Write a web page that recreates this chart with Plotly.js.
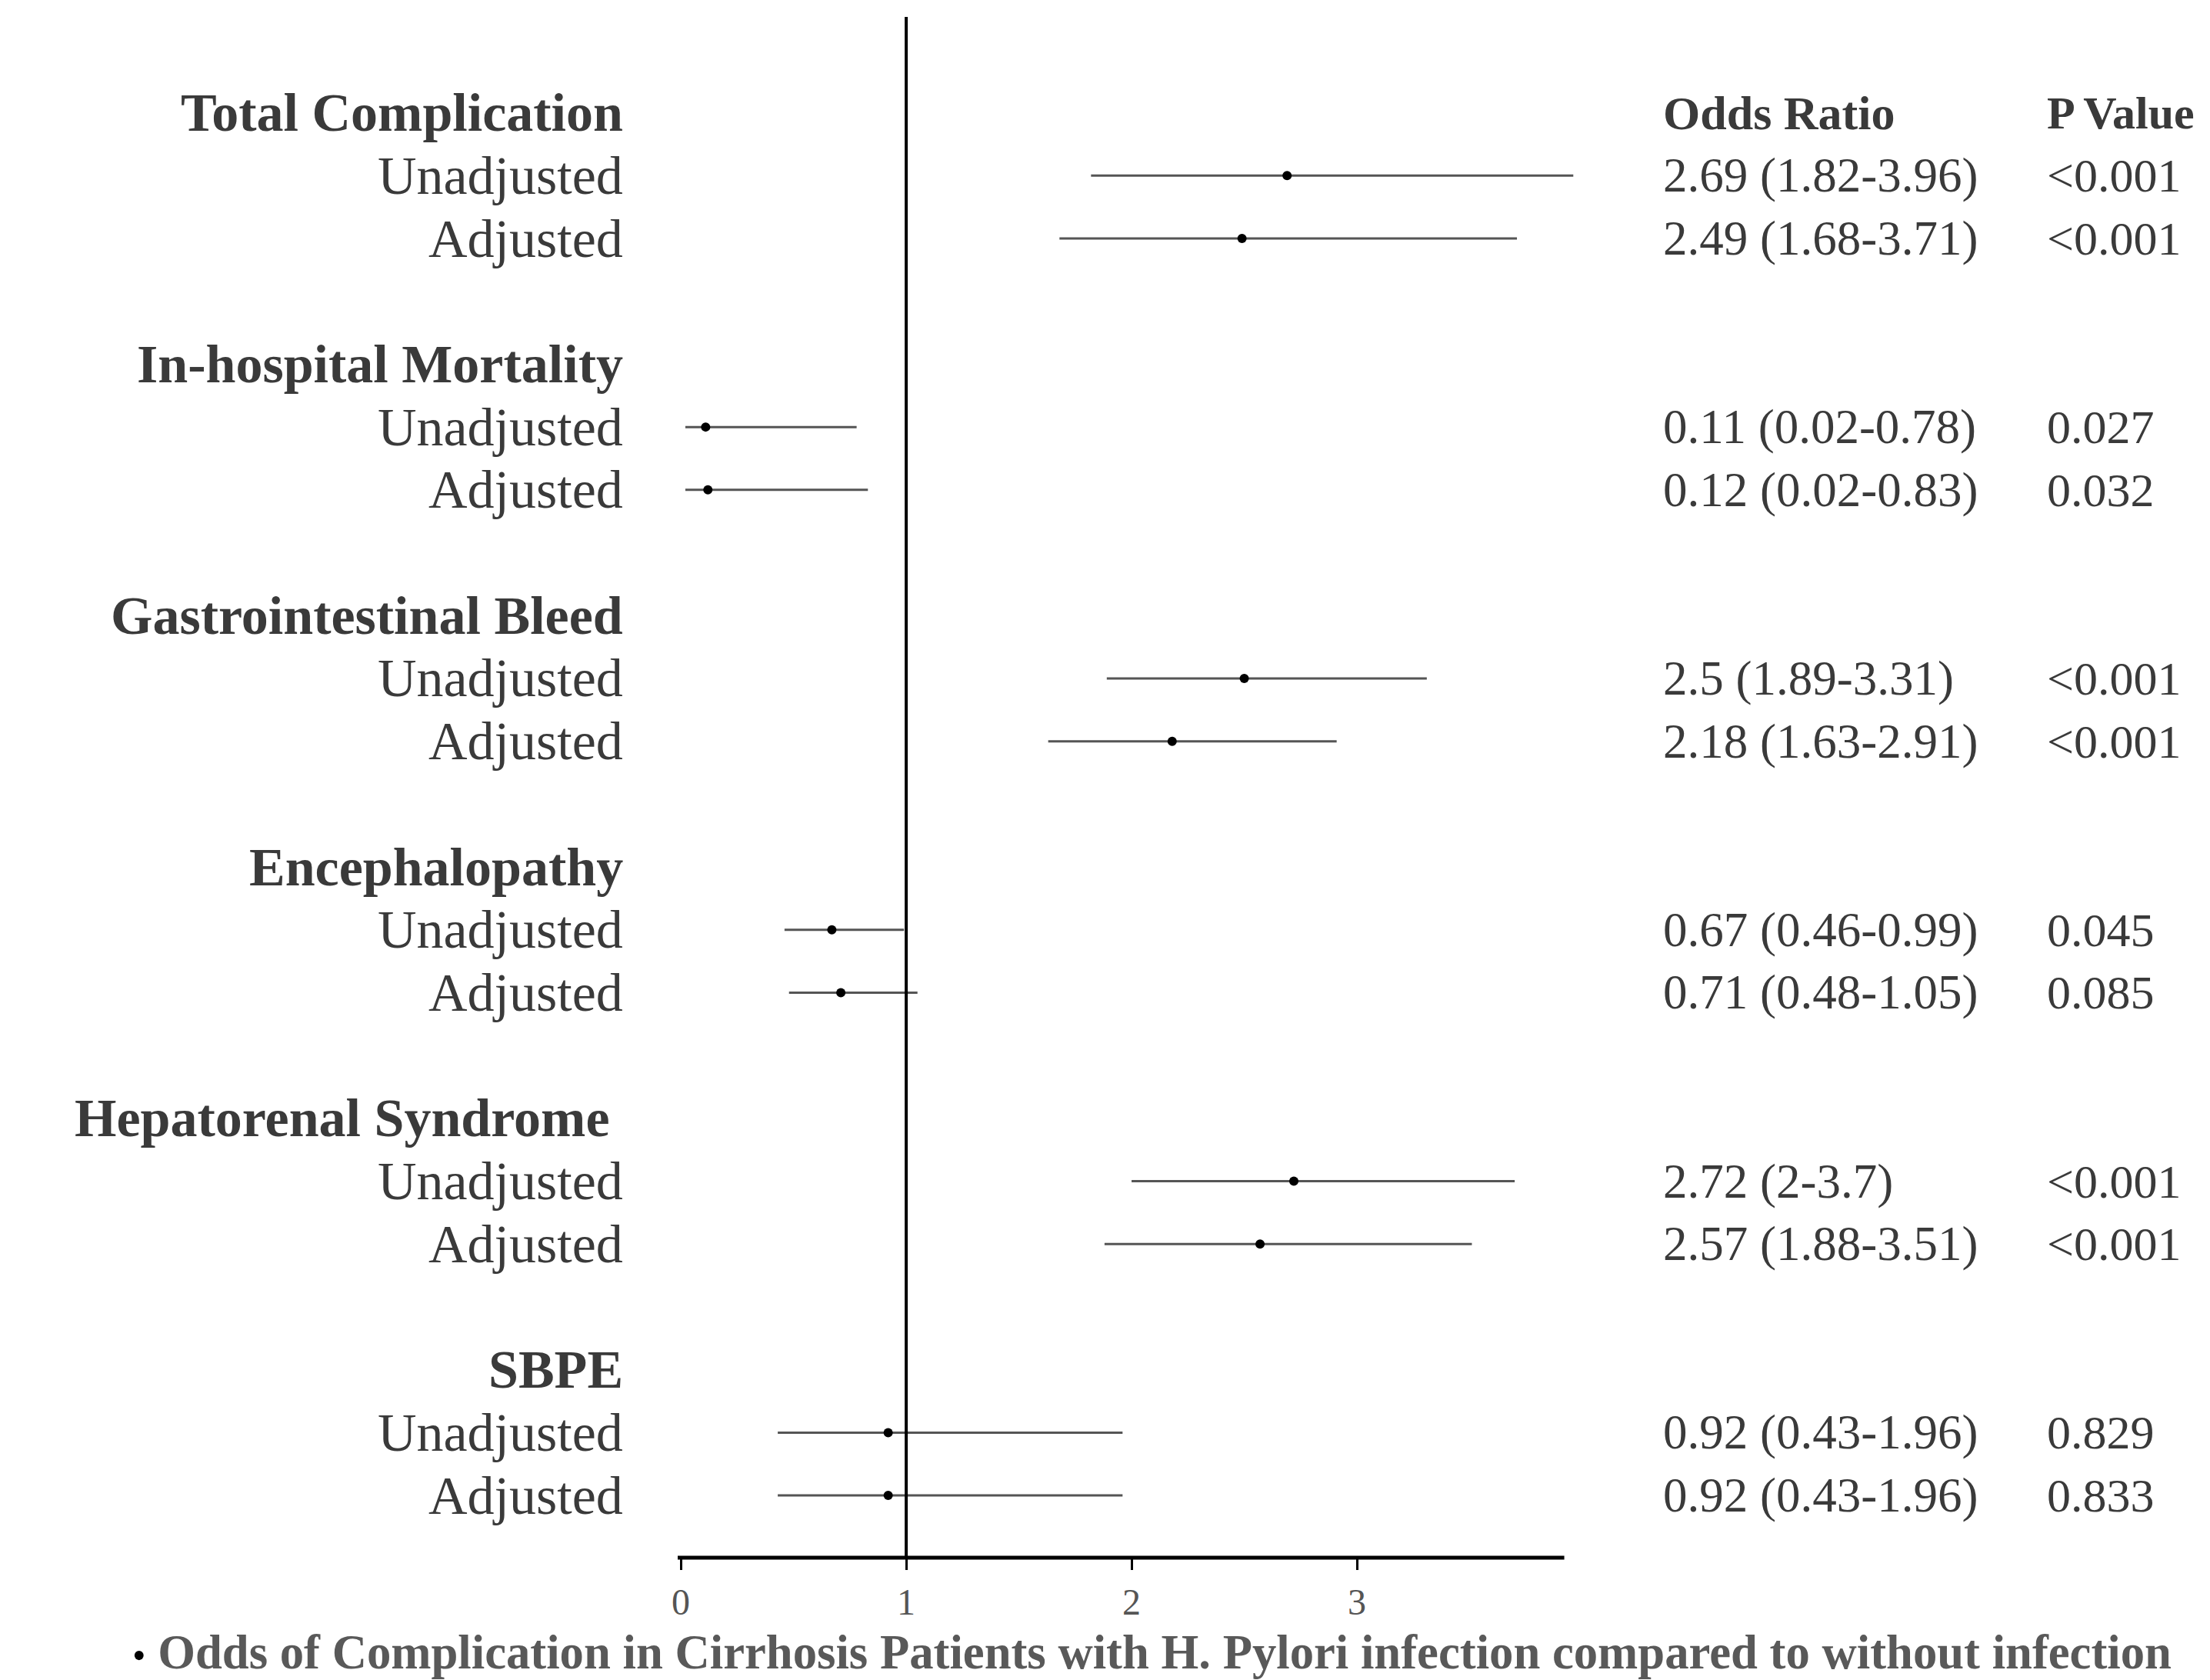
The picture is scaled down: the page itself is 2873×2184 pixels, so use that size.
<!DOCTYPE html>
<html>
<head>
<meta charset="utf-8">
<script src="https://cdn.plot.ly/plotly-3.0.1.min.js"></script>
<style>html,body{margin:0;padding:0;background:#fff;}#chart{width:2873px;height:2184px;}</style>
</head>
<body>
<div id="chart"></div>
<script>
const groups = ["Total Complication","In-hospital Mortality","Gastrointestinal Bleed","Encephalopathy","Hepatorenal Syndrome\u00a0","SBPE"];
const subLabels = ["Unadjusted","Adjusted"];
const orUnadj = [2.69,0.11,2.5,0.67,2.72,0.92];
const loUnadj = [1.82,0.02,1.89,0.46,2,0.43];
const hiUnadj = [3.96,0.78,3.31,0.99,3.7,1.96];
const pUnadj  = ["<0.001","0.027","<0.001","0.045","<0.001","0.829"];
const orAdj = [2.49,0.12,2.18,0.71,2.57,0.92];
const loAdj = [1.68,0.02,1.63,0.48,1.88,0.43];
const hiAdj = [3.71,0.83,2.91,1.05,3.51,1.96];
const pAdj  = ["<0.001","0.032","<0.001","0.085","<0.001","0.833"];
const xTicks = [0,1,2,3];
const axisSpan = [-0.014,3.92];
const colHeaders = ["Odds Ratio","P Value"];
const footnote = "Odds of Complication in Cirrhosis Patients with H. Pylori infection compared to without infection";

const FONT = '"Liberation Serif","Times New Roman",serif';
const TXT = '#3a3a3a';

const xs=[], ys=[], ep=[], em=[];
const ann=[];
const xLeft=-0.0586, xOR=1.0880, xP=1.5121;

ann.push({xref:'paper',yref:'y',x:xOR,y:0,xanchor:'left',yanchor:'middle',showarrow:false,
  text:'<b>'+colHeaders[0]+'</b>',font:{family:FONT,size:62,color:TXT}});
ann.push({xref:'paper',yref:'y',x:xP,y:0,xanchor:'left',yanchor:'middle',showarrow:false,
  text:'<b>'+colHeaders[1]+'</b>',font:{family:FONT,size:60,color:TXT}});

groups.forEach((g,i)=>{
  const h=4*i;
  ann.push({xref:'paper',yref:'y',x:xLeft,y:h,xanchor:'right',yanchor:'middle',showarrow:false,
    text:'<b>'+g+'</b>',font:{family:FONT,size:70,color:TXT}});
  const sets=[[orUnadj,loUnadj,hiUnadj,pUnadj],[orAdj,loAdj,hiAdj,pAdj]];
  sets.forEach((s,k)=>{
    const r=h+1+k;
    const o=s[0][i], lo=s[1][i], hi=s[2][i], p=s[3][i];
    xs.push(o); ys.push(r); ep.push(hi-o); em.push(o-lo);
    ann.push({xref:'paper',yref:'y',x:xLeft,y:r,xanchor:'right',yanchor:'middle',showarrow:false,
      text:subLabels[k],font:{family:FONT,size:70,color:TXT}});
    ann.push({xref:'paper',yref:'y',x:xOR,y:r,xanchor:'left',yanchor:'middle',showarrow:false,
      text:o+' ('+lo+'-'+hi+')',font:{family:FONT,size:63,color:TXT}});
    ann.push({xref:'paper',yref:'y',x:xP,y:r,xanchor:'left',yanchor:'middle',showarrow:false,
      text:p.replace('<','&lt;'),font:{family:FONT,size:62,color:TXT}});
  });
});

ann.push({xref:'paper',yref:'paper',x:0.5244,y:-0.0614,xanchor:'center',yanchor:'middle',showarrow:false,
  text:'<span style="color:#000;font-size:50px">•</span> <b>'+footnote+'</b>',
  font:{family:FONT,size:62.7,color:'#595959'}});

const trace={
  type:'scatter',mode:'markers',x:xs,y:ys,
  marker:{size:12,color:'#000'},
  error_x:{type:'data',symmetric:false,array:ep,arrayminus:em,width:0,thickness:3,color:'#555'},
  cliponaxis:false,hoverinfo:'skip'
};

const layout={
  width:2873,height:2184,
  paper_bgcolor:'#fff',plot_bgcolor:'#fff',
  margin:{l:881,r:815.5,t:22,b:159},
  showlegend:false,
  xaxis:{range:[-0.014,4.0],tickvals:xTicks,ticks:'outside',ticklen:15,tickwidth:3,tickcolor:'#000',
    showline:false,showgrid:false,zeroline:false,
    tickfont:{family:FONT,size:48,color:'#555'}},
  yaxis:{range:[22.99,-1.525],visible:false,showgrid:false,zeroline:false},
  shapes:[
    {type:'line',xref:'x',yref:'paper',x0:1,x1:1,y0:0,y1:1,line:{color:'#000',width:4}},
    {type:'line',xref:'x',yref:'paper',x0:axisSpan[0],x1:axisSpan[1],y0:0,y1:0,line:{color:'#000',width:5}}
  ],
  annotations:ann
};

Plotly.newPlot('chart',[trace],layout,{displayModeBar:false,staticPlot:true});
</script>
</body>
</html>
